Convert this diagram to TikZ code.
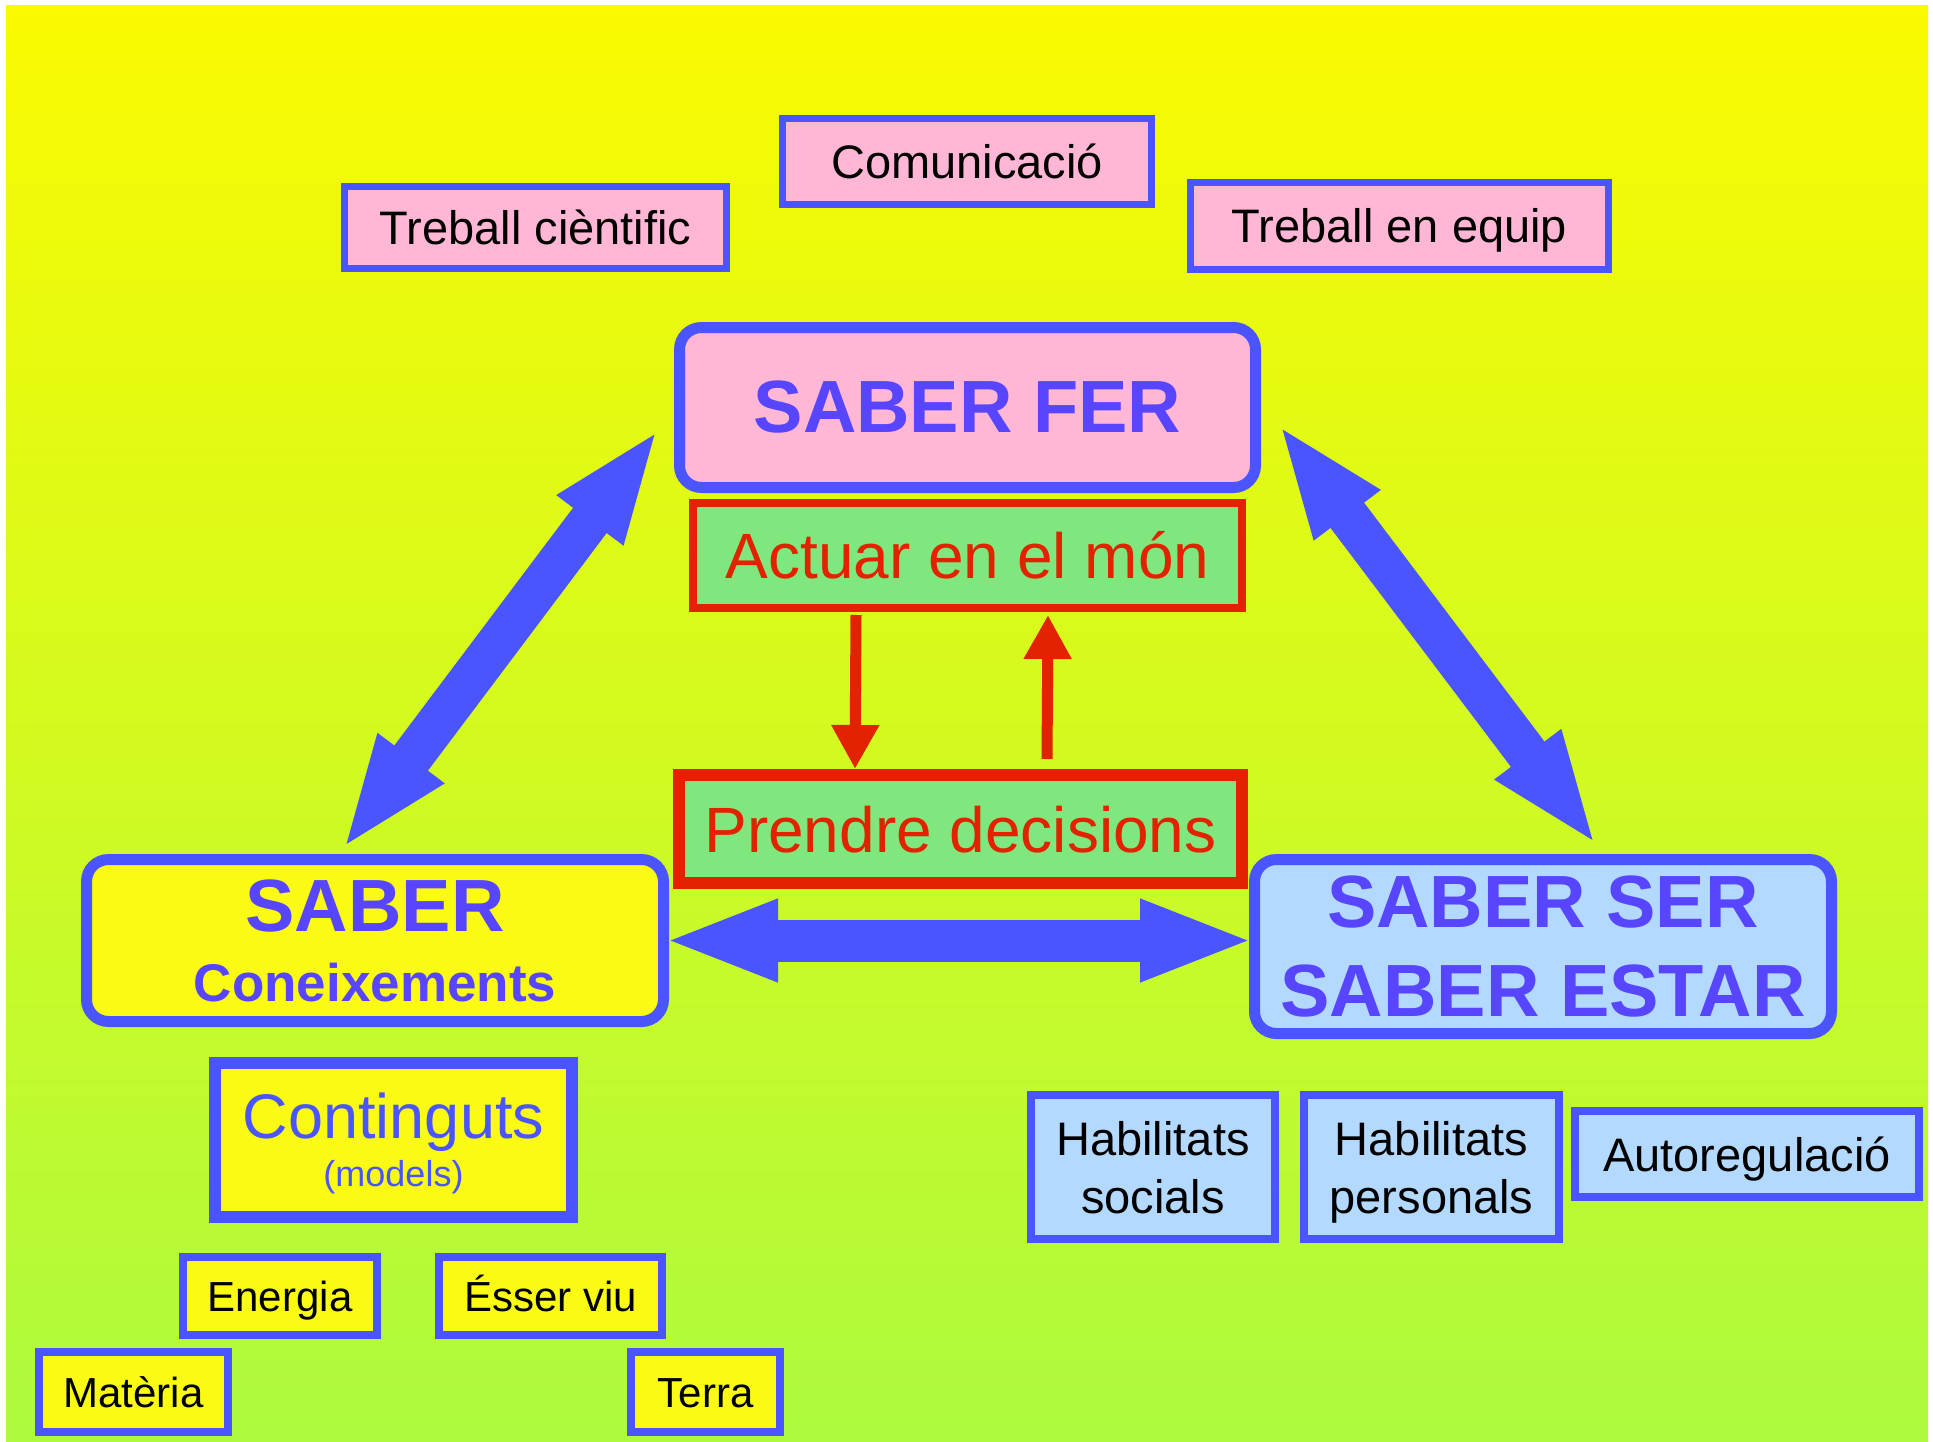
\documentclass[tikz,border=0pt]{standalone}
\usepackage{fontspec}
\setmainfont{Liberation Sans}
\usetikzlibrary{arrows.meta, positioning}
\definecolor{boxblue}{HTML}{4A55FF}
\definecolor{textblue}{HTML}{5745FF}
\definecolor{pinkfill}{HTML}{FFB7D5}
\definecolor{greenfill}{HTML}{80E67E}
\definecolor{redline}{HTML}{E22200}
\definecolor{yellowfill}{HTML}{FAFA14}
\definecolor{lightblue}{HTML}{B3D9FF}
\definecolor{bgtop}{HTML}{FAFA00}
\definecolor{bgbottom}{HTML}{ADFA3E}

\begin{document}
\begin{tikzpicture}[x=1pt, y=1pt,
  bigbox/.style={rectangle, draw=boxblue, line width=11pt, rounded corners=22pt, text=textblue, align=center, inner sep=0pt, font=\bfseries\fontsize{74}{89}\selectfont},
  tagbox/.style={rectangle, draw=boxblue, line width=7pt, fill=pinkfill, inner sep=0pt, text height=34pt, text depth=0pt, font=\fontsize{47}{58}\selectfont},
  redbox/.style={rectangle, draw=redline, fill=greenfill, text=redline, inner sep=0pt, text height=46pt, text depth=0pt, font=\fontsize{64}{70}\selectfont},
  topicbox/.style={rectangle, draw=boxblue, line width=8pt, fill=yellowfill, inner sep=0pt, text height=30pt, text depth=0pt, font=\fontsize{42}{50}\selectfont},
  skillbox/.style={rectangle, draw=boxblue, line width=8pt, fill=lightblue, inner sep=0pt, align=center, text depth=0pt, font=\fontsize{47}{58}\selectfont},
  bigarrow/.style={{Triangle[length=115pt, width=74pt]}-{Triangle[length=115pt, width=74pt]}, line width=42pt, draw=boxblue},
  redarrow/.style={-{Triangle[length=44pt, width=45pt]}, line width=11pt, draw=redline}
]
  \useasboundingbox (0,0) rectangle (1933,-1442);
  \fill[white] (0,0) rectangle (1933,-1442);
  \shade[top color=bgtop, bottom color=bgbottom] (6,-6) rectangle (1928,-1442);

  % top row
  \node[tagbox, minimum width=369pt, minimum height=86pt] (com) at (967,-161.5) {Comunicació};
  \node[tagbox, minimum width=382pt, minimum height=82pt] (tsci) at (535.5,-227.5) {Treball cièntific};
  \node[tagbox, minimum width=418pt, minimum height=87pt] (teq) at (1399.5,-226) {Treball en equip};

  % the three knowledges
  \node[bigbox, fill=pinkfill, minimum width=576pt, minimum height=160pt] (fer) at (967.5,-407.5) {SABER FER};
  \node[redbox, line width=8pt, minimum width=549pt, minimum height=105pt, below=6pt of fer] (act) {Actuar en el món};
  \node[redbox, line width=12pt, minimum width=563pt, minimum height=108pt] (dec) at (960.5,-829) {Prendre decisions};
  \node[bigbox, fill=yellowfill, minimum width=577pt, minimum height=162pt, font=\bfseries\fontsize{53}{70}\selectfont] (sab) at (375,-940.5) {{\fontsize{74}{70}\selectfont SABER}\\Coneixements};
  \node[bigbox, fill=lightblue, minimum width=577pt, minimum height=174pt] (ser) at (1543,-946.5) {SABER SER\\SABER ESTAR};

  % contents
  \node[rectangle, draw=boxblue, line width=12pt, fill=yellowfill, text=boxblue, align=center, inner sep=0pt, text depth=0pt, minimum width=357pt, minimum height=154pt, font=\fontsize{36}{48}\selectfont] (cont) at (393.5,-1140) {{\fontsize{63}{48}\selectfont Continguts}\\(models)};
  \node[topicbox, minimum width=194pt, minimum height=78pt] (ener) at (280,-1296) {Energia};
  \node[topicbox, minimum width=223pt, minimum height=78pt, right=54pt of ener] (esser) {Ésser viu};
  \node[topicbox, minimum width=189pt, minimum height=80pt] (mat) at (133.5,-1392) {Matèria};
  \node[topicbox, minimum width=149pt, minimum height=80pt] (terra) at (705.5,-1392) {Terra};

  % skills
  \node[skillbox, minimum width=244pt, minimum height=144pt] (hsoc) at (1153,-1167) {Habilitats\\socials};
  \node[skillbox, minimum width=255pt, minimum height=144pt, right=21pt of hsoc] (hper) {Habilitats\\personals};
  \node[skillbox, minimum width=344pt, minimum height=86pt] (auto) at (1747,-1154) {Autoregulació};

  % arrows
  \draw[bigarrow] ([xshift=-33pt,yshift=4pt]sab.north) -- ([xshift=-15pt,yshift=-21pt]fer.west);
  \draw[bigarrow] ([xshift=17pt,yshift=-16pt]fer.east) -- ([xshift=54pt,yshift=8pt]ser.north);
  \draw[bigarrow] ([xshift=-6pt]sab.east) -- ([xshift=6pt]sab.east -| ser.west);
  \draw[redarrow] ([xshift=-111.5pt,yshift=-3pt]act.south) -- ([xshift=-105.5pt]dec.north);
  \draw[redarrow] ([xshift=86.5pt,yshift=10pt]dec.north) -- ([xshift=80.5pt,yshift=-3pt]act.south);
\end{tikzpicture}
\end{document}
